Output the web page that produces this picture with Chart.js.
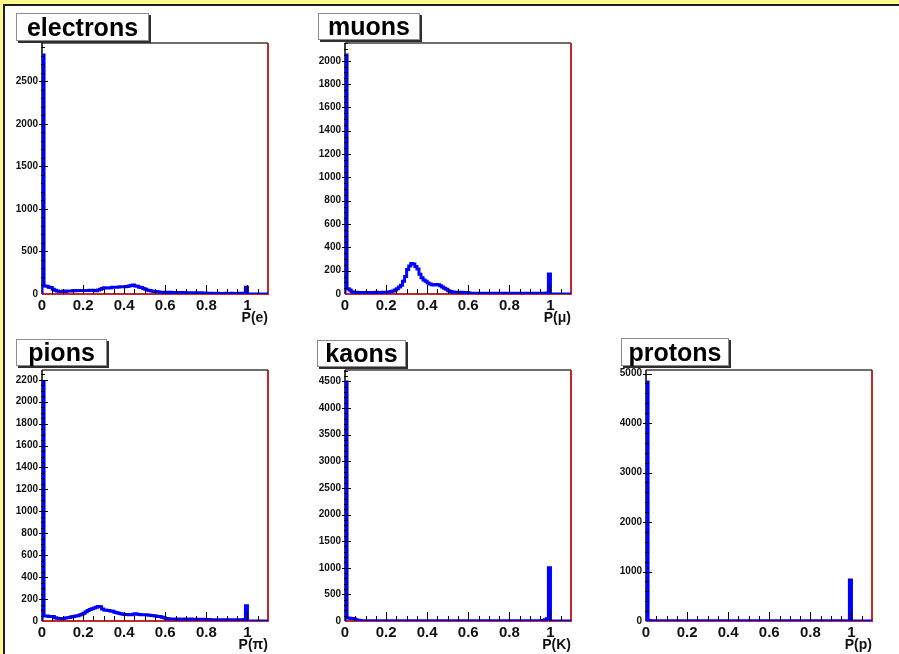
<!DOCTYPE html>
<html>
<head>
<meta charset="utf-8">
<script src="https://cdn.jsdelivr.net/npm/chart.js@4.4.1/dist/chart.umd.min.js"></script>
<style>
  html, body { margin: 0; padding: 0; }
  body {
    width: 899px; height: 654px; position: relative; overflow: hidden;
    background: #fdf98c;
    font-family: "Liberation Sans", Arial, Helvetica, sans-serif;
  }
  #sheet {
    position: absolute; left: 3px; top: 4px; width: 910px; height: 670px;
    background: #fff; border-top: 2px solid #1e1e1e; border-left: 2px solid #1e1e1e;
  }
  canvas { position: absolute; z-index: 1; }
  .ttl {
    position: absolute; z-index: 2; box-sizing: border-box;
    background: #fff; border: 1px solid #8c8c8c; box-shadow: 2px 2px 0 #2e2e2e;
    font-weight: bold; font-size: 25px; color: #000;
    display: flex; align-items: center; justify-content: center;
  }
</style>
</head>
<body>
<div id="sheet"></div>
<script>
// PID probability histograms, 110 bins of 0.01 from 0 to 1.1
const binWidth = 0.01;
const xMax = 1.1;
const xLabels = [0, 0.2, 0.4, 0.6, 0.8, 1];

const electrons = [
  2810, 95, 90, 80, 75, 55, 45, 35, 30, 30,
  35, 30, 35, 35, 35, 40, 38, 40, 40, 42,
  42, 40, 40, 45, 45, 40, 38, 48, 55, 65,
  72, 70, 70, 72, 78, 80, 80, 82, 85, 85,
  85, 88, 95, 100, 105, 95, 90, 80, 75, 65,
  55, 45, 40, 35, 30, 28, 25, 22, 22, 20,
  20, 19, 20, 18, 18, 17, 18, 16, 17, 16,
  15, 16, 15, 14, 15, 14, 13, 14, 12, 12,
  8, 7, 8, 6, 7, 8, 6, 7, 6, 8,
  7, 6, 8, 6, 7, 6, 8, 7, 10, 80,
  0, 0, 0, 0, 0, 0, 0, 0, 0, 0
];
const muons = [
  2050, 45, 35, 20, 15, 14, 12, 13, 12, 10,
  12, 13, 12, 11, 12, 14, 12, 13, 15, 14,
  16, 18, 22, 25, 35, 45, 60, 75, 110, 150,
  210, 240, 262, 258, 235, 215, 170, 140, 120, 110,
  95, 85, 80, 78, 82, 80, 70, 60, 50, 40,
  28, 22, 18, 15, 15, 14, 15, 13, 12, 12,
  8, 7, 6, 6, 7, 5, 6, 6, 5, 6,
  6, 5, 6, 7, 5, 6, 6, 5, 6, 6,
  5, 6, 6, 5, 6, 7, 5, 6, 6, 5,
  6, 6, 5, 6, 6, 5, 6, 6, 8, 172,
  0, 0, 0, 0, 0, 0, 0, 0, 0, 0
];
const pions = [
  2180, 45, 45, 42, 42, 40, 30, 25, 22, 20,
  22, 28, 30, 32, 38, 42, 45, 48, 55, 62,
  70, 85, 95, 105, 112, 118, 125, 132, 130, 110,
  100, 98, 95, 92, 88, 80, 75, 70, 65, 62,
  60, 60, 58, 58, 62, 65, 62, 60, 58, 58,
  56, 55, 52, 50, 48, 45, 42, 40, 35, 30,
  22, 20, 18, 19, 18, 17, 18, 16, 17, 18,
  17, 16, 18, 16, 15, 16, 17, 15, 16, 14,
  12, 13, 12, 11, 12, 12, 10, 11, 12, 11,
  12, 10, 11, 12, 10, 11, 12, 10, 14, 140,
  0, 0, 0, 0, 0, 0, 0, 0, 0, 0
];
const kaons = [
  4490, 55, 50, 45, 40, 25, 15, 8, 3, 3,
  3, 3, 3, 3, 3, 3, 3, 3, 3, 3,
  3, 3, 3, 3, 3, 3, 3, 3, 3, 3,
  3, 3, 3, 3, 3, 3, 3, 3, 3, 3,
  3, 3, 3, 3, 3, 3, 3, 3, 3, 3,
  3, 3, 3, 3, 3, 3, 3, 3, 3, 3,
  3, 3, 3, 3, 3, 3, 3, 3, 3, 3,
  3, 3, 3, 3, 3, 3, 3, 3, 3, 3,
  3, 3, 3, 3, 3, 3, 3, 3, 3, 3,
  3, 3, 3, 3, 3, 3, 10, 25, 40, 1000,
  0, 0, 0, 0, 0, 0, 0, 0, 0, 0
];
const protons = [
  4830, 8, 3, 3, 3, 3, 3, 3, 3, 3,
  3, 3, 3, 3, 3, 3, 3, 3, 3, 3,
  3, 3, 3, 3, 3, 3, 3, 3, 3, 3,
  3, 3, 3, 3, 3, 3, 3, 3, 3, 3,
  3, 3, 3, 3, 3, 3, 3, 3, 3, 3,
  3, 3, 3, 3, 3, 3, 3, 3, 3, 3,
  3, 3, 3, 3, 3, 3, 3, 3, 3, 3,
  3, 3, 3, 3, 3, 3, 3, 3, 3, 3,
  3, 3, 3, 3, 3, 3, 3, 3, 3, 3,
  3, 3, 3, 3, 3, 3, 3, 3, 3, 830,
  0, 0, 0, 0, 0, 0, 0, 0, 0, 0
];

const eTicks = [0, 500, 1000, 1500, 2000, 2500];
const muTicks = [0, 200, 400, 600, 800, 1000, 1200, 1400, 1600, 1800, 2000];
const piTicks = [0, 200, 400, 600, 800, 1000, 1200, 1400, 1600, 1800, 2000, 2200];
const kTicks = [0, 500, 1000, 1500, 2000, 2500, 3000, 3500, 4000, 4500];
const pTicks = [0, 1000, 2000, 3000, 4000, 5000];

// frame + inward ticks the way ROOT draws them
const rootFrame = {
  id: 'rootFrame',
  beforeDatasetsDraw(chart) {
    const { ctx, chartArea: a } = chart;
    ctx.save();
    ctx.lineWidth = 2;
    ctx.strokeStyle = '#c42828';
    ctx.beginPath();
    ctx.moveTo(a.left, a.bottom);
    ctx.lineTo(a.right, a.bottom);
    ctx.lineTo(a.right, a.top);
    ctx.stroke();
    ctx.lineWidth = 1.5;
    ctx.strokeStyle = '#3c3c3c';
    ctx.beginPath();
    ctx.moveTo(a.left, a.top);
    ctx.lineTo(a.right, a.top);
    ctx.stroke();
    ctx.strokeStyle = '#000';
    ctx.beginPath();
    ctx.moveTo(a.left, a.top);
    ctx.lineTo(a.left, a.bottom);
    ctx.stroke();
    ctx.restore();
  },
  afterDatasetsDraw(chart, args, opts) {
    const { ctx, chartArea: a, scales } = chart;
    const x = scales.x, y = scales.y;
    ctx.save();
    ctx.strokeStyle = '#000';
    ctx.lineWidth = 1;
    ctx.beginPath();
    for (let k = 1; k * opts.xMinor < x.max - 1e-9; k++) {
      const px = Math.round(x.getPixelForValue(k * opts.xMinor)) + 0.5;
      const len = k % 4 === 0 ? 9 : 5;
      ctx.moveTo(px, a.bottom);
      ctx.lineTo(px, a.bottom - len);
    }
    const per = Math.round(opts.yStep / opts.yMinor);
    for (let k = 1; k * opts.yMinor < y.max; k++) {
      const py = Math.round(y.getPixelForValue(k * opts.yMinor)) + 0.5;
      if (k % per === 0) {
        ctx.moveTo(a.left - 3, py);
        ctx.lineTo(a.left + 6, py);
      } else {
        ctx.moveTo(a.left - 1, py);
        ctx.lineTo(a.left + 3, py);
      }
    }
    ctx.stroke();
    ctx.restore();
  }
};

function makePanel(p) {
  const cv = document.createElement('canvas');
  cv.width = 276;
  cv.height = 296;
  cv.style.left = (p.left - 42) + 'px';
  cv.style.top = (p.top - 12) + 'px';
  document.body.appendChild(cv);

  const box = document.createElement('div');
  box.className = 'ttl';
  box.textContent = p.name;
  Object.assign(box.style, { left: p.box[0] + 'px', top: p.box[1] + 'px', width: p.box[2] + 'px', height: p.box[3] + 'px' });
  document.body.appendChild(box);

  // bin contents become step points at the bin right edges
  const pts = [{ x: 0, y: 0 }].concat(p.counts.map((c, i) => ({ x: (i + 1) * binWidth, y: c })));
  const yTop = 1.05 * Math.max(...p.counts);

  new Chart(cv.getContext('2d'), {
    type: 'line',
    data: {
      datasets: [{
        data: pts,
        stepped: 'after',
        borderColor: '#0000ff',
        borderWidth: 3,
        borderJoinStyle: 'miter',
        pointRadius: 0,
        fill: false
      }]
    },
    options: {
      responsive: false,
      animation: false,
      events: [],
      layout: { padding: { top: 12, right: 8, left: 0, bottom: 0 } },
      plugins: {
        legend: { display: false },
        tooltip: { enabled: false },
        rootFrame: { xMinor: 0.05, yStep: p.yTicks[1], yMinor: p.yMinor }
      },
      scales: {
        x: {
          type: 'linear',
          min: 0,
          max: xMax,
          grid: { display: false, drawTicks: false },
          border: { display: false },
          afterBuildTicks: s => { s.ticks = xLabels.map(v => ({ value: v })); },
          afterFit: s => { s.height = 33; },
          ticks: {
            autoSkip: false,
            maxRotation: 0,
            padding: 3,
            color: '#111',
            font: { family: '"Liberation Sans", Arial', size: 15, weight: 'bold' },
            callback: v => String(Math.round(v * 10) / 10)
          },
          title: {
            display: true,
            text: p.axis,
            align: 'end',
            color: '#111',
            padding: { top: 0, bottom: 0 },
            font: { family: '"Liberation Sans", Arial', size: 14, weight: 'bold' }
          }
        },
        y: {
          min: 0,
          max: yTop,
          grid: { display: false, drawTicks: false },
          border: { display: false },
          afterBuildTicks: s => { s.ticks = p.yTicks.map(v => ({ value: v })); },
          afterFit: s => { s.width = 42; },
          ticks: {
            autoSkip: false,
            padding: 4,
            color: '#111',
            font: { family: '"Liberation Sans", Arial', size: 10, weight: 'bold' },
            callback: v => String(v)
          }
        }
      }
    },
    plugins: [rootFrame]
  });
}

makePanel({ name: 'electrons', axis: 'P(e)', counts: electrons, yTicks: eTicks, yMinor: 100, left: 42, top: 43, box: [16, 13, 133, 28] });
makePanel({ name: 'muons', axis: 'P(μ)', counts: muons, yTicks: muTicks, yMinor: 50, left: 345, top: 43, box: [318, 13, 102, 27] });
makePanel({ name: 'pions', axis: 'P(π)', counts: pions, yTicks: piTicks, yMinor: 50, left: 42, top: 370, box: [16, 339, 91, 27] });
makePanel({ name: 'kaons', axis: 'P(K)', counts: kaons, yTicks: kTicks, yMinor: 100, left: 345, top: 370, box: [317, 340, 89, 27] });
makePanel({ name: 'protons', axis: 'P(p)', counts: protons, yTicks: pTicks, yMinor: 200, left: 646, top: 370, box: [621, 338, 108, 28] });
</script>
</body>
</html>
